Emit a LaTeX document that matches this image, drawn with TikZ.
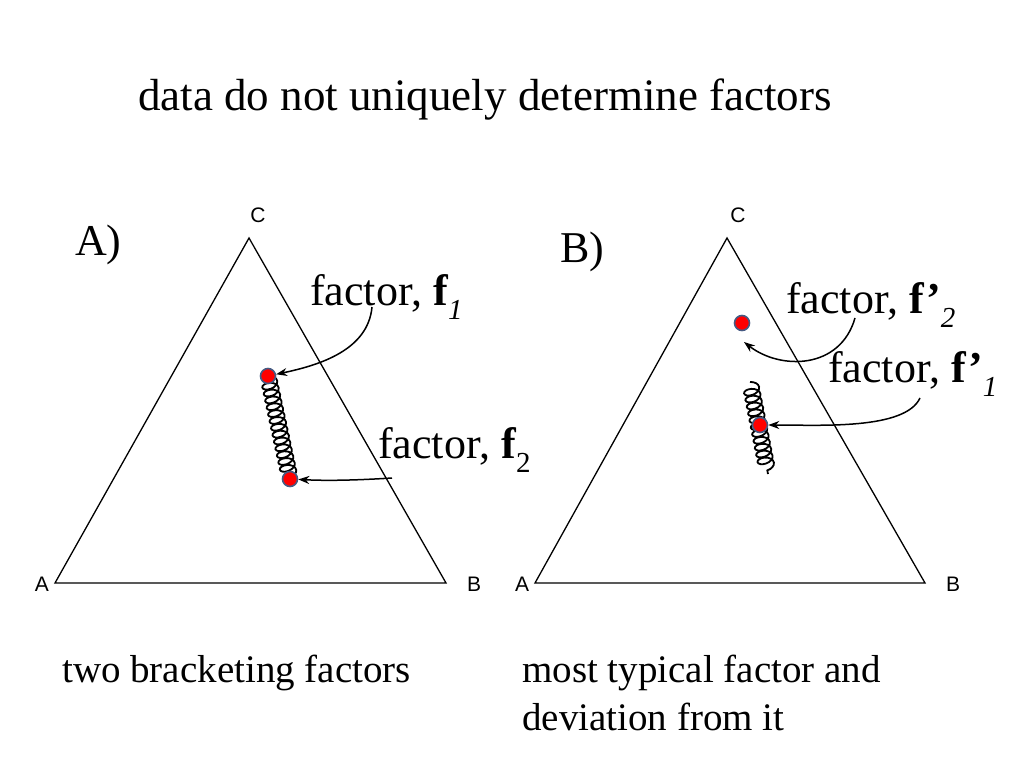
\documentclass[tikz,border=0pt]{standalone}
\usepackage{fontspec}
\setmainfont{Liberation Serif}
\setsansfont{Liberation Sans}
\usetikzlibrary{decorations.pathmorphing,arrows.meta}
\newcommand{\mysub}[1]{\raisebox{-0.32em}{\fontsize{29}{29}\selectfont #1}}
\begin{document}
\begin{tikzpicture}[x=1pt,y=-1pt,
  tri/.style={draw,line width=1.3pt},
  vert/.style={font=\sffamily\fontsize{21}{21}\selectfont,inner sep=0},
  lab/.style={font=\fontsize{44}{44}\selectfont,inner sep=0},
  dot/.style={circle,fill=red,draw={rgb,255:red,70;green,90;blue,130},line width=1.6pt,minimum size=15pt,inner sep=0},
  spring/.style={draw,line width=1.8pt,decorate,decoration={coil,aspect=0.6,segment length=7pt,amplitude=8pt}},
  arr/.style={draw,line width=1.5pt,-{Stealth[length=11pt,width=8pt]}}]
\useasboundingbox (0,0) rectangle (1024,768);
\node[font=\fontsize{45}{45}\selectfont,anchor=base west,inner sep=0] (title) at (138,110) {data do not uniquely determine factors};
% triangle A
\coordinate (a1) at (55,583); \coordinate (c1) at (249,238); \coordinate (b1) at (446,583);
\draw[tri] (a1) -- (c1) -- (b1) -- cycle;
\node[vert] (tA1) at (42,584) {A}; \node[vert] (tB1) at (474,584) {B}; \node[vert] (tC1) at (258,215) {C};
\node[lab,anchor=base west] (pA) at (75,255) {A)};
\coordinate (s1) at (268,376); \coordinate (s2) at (290,479);
\draw[spring] (s1) -- (s2);
\node[dot] (f1) at (s1) {}; \node[dot] (f2) at (s2) {};
\node[lab,anchor=base west] (l1) at (310,305) {factor, \textbf{f}\mysub{\textit{1}}};
\node[lab,anchor=base west] (l2) at (378,458) {factor, \textbf{f}\mysub{2}};
\coordinate (e1) at (372,307);
\draw[arr] (e1) .. controls (368,350) and (320,365) .. (f1);
\coordinate (e2) at (392,478);
\draw[arr] (e2) .. controls (360,480) and (330,481) .. (f2);
% triangle B
\coordinate (a2) at (535,583); \coordinate (c2) at (727,238); \coordinate (b2) at (925,583);
\draw[tri] (a2) -- (c2) -- (b2) -- cycle;
\node[vert] (tA2) at (522,584) {A}; \node[vert] (tB2) at (953,584) {B}; \node[vert] (tC2) at (738,215) {C};
\node[lab,anchor=base west] (pB) at (560,262) {B)};
\coordinate (s3) at (750,382); \coordinate (s4) at (768,474);
\draw[spring] (s3) -- (s4);
\node[dot] (g1) at (760,425) {}; \node[dot] (g2) at (742,323) {};
\node[lab,anchor=base west] (l3) at (786,313) {factor, \textbf{f'}\mysub{\textit{2}}};
\node[lab,anchor=base west] (l4) at (828,382) {factor, \textbf{f'}\mysub{\textit{1}}};
\coordinate (e3) at (855,318);
\draw[arr] (e3) .. controls (840,370) and (780,370) .. (744,342);
\coordinate (e4) at (920,398);
\draw[arr] (e4) .. controls (905,430) and (820,425) .. (g1);
\node[font=\fontsize{39}{39}\selectfont,anchor=base west,inner sep=0] (c1t) at (62,682) {two bracketing factors};
\node[font=\fontsize{39}{39}\selectfont,anchor=base west,inner sep=0] (c2t) at (522,682) {most typical factor and};
\node[font=\fontsize{39}{39}\selectfont,anchor=base west,inner sep=0] (c3t) at (522,730) {deviation from it};
\end{tikzpicture}
\end{document}
